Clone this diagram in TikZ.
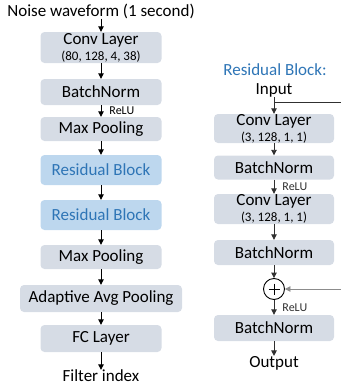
\documentclass[tikz,border=0pt]{standalone}
\usepackage{fontspec}
\setmainfont{Carlito}
\usetikzlibrary{arrows.meta,calc}
\definecolor{boxgray}{HTML}{D6DCE5}
\definecolor{boxblue}{HTML}{BDD7EE}
\definecolor{txtblue}{HTML}{2E75B6}
\definecolor{darkline}{HTML}{303030}
\definecolor{greyline}{HTML}{8C8C8C}
\tikzset{
  main/.style={font=\fontsize{17}{19}\selectfont, inner sep=0pt},
  graybox/.style={main, fill=boxgray, rounded corners=4pt, minimum width=121pt},
  bluebox/.style={main, fill=boxblue, text=txtblue, rounded corners=4pt, minimum width=121pt, minimum height=30pt},
  relu/.style={font=\fontsize{12}{13}\selectfont, inner sep=0pt, anchor=west},
  arr/.style={-{Triangle[length=5.5pt,width=5.5pt]}, line width=0.9pt, black},
  arrd/.style={-{Triangle[length=5.5pt,width=5.5pt]}, line width=0.9pt, darkline},
}
\begin{document}
\begin{tikzpicture}[x=1pt,y=-1pt]
\useasboundingbox (0,0) rectangle (340,388);
% left column
\node[main] (noise) at (101,11) {Noise waveform (1 second)};
\node[graybox, minimum height=31pt, align=center] (conv) at (101,47.5) {Conv Layer\\[-3pt]{\fontsize{13}{14}\selectfont (80, 128, 4, 38)}};
\node[graybox, minimum height=26pt] (bn) at (101,92) {BatchNorm};
\node[graybox, minimum height=24pt] (mp) at (101,129) {Max Pooling};
\node[bluebox] (rb1) at (101,170) {Residual Block};
\node[bluebox] (rb2) at (101,215) {Residual Block};
\node[graybox, minimum height=24pt] (mp2) at (101,257) {Max Pooling};
\node[graybox, minimum height=27pt, minimum width=162pt] (aap) at (101,298.5) {Adaptive Avg Pooling};
\node[graybox, minimum height=27pt] (fc) at (101,338.5) {FC Layer};
\node[main] (fi) at (101,376) {Filter index};
\draw[arr] (noise) -- (conv);
\draw[arr] (conv) -- (bn);
\draw[arr] (bn) -- node[relu, xshift=8pt] (r1) {ReLU} (mp);
\draw[arr] (mp) -- (rb1);
\draw[arr] (rb1) -- (rb2);
\draw[arr] (rb2) -- (mp2);
\draw[arr] (mp2) -- (aap);
\draw[arr] (aap) -- (fc);
\draw[arr] (fc) -- (fi);
% right column
\node[main, text=txtblue] (title) at (275,70) {Residual Block:};
\node[main] (inp) at (274,90) {Input};
\node[graybox, minimum height=29pt, minimum width=120pt, align=center] (rc1) at (274,128.5) {Conv Layer\\[-3pt]{\fontsize{13}{14}\selectfont (3, 128, 1, 1)}};
\node[graybox, minimum height=24pt, minimum width=120pt] (rbn1) at (274,167.5) {BatchNorm};
\node[graybox, minimum height=30pt, minimum width=120pt, align=center] (rc2) at (274,209) {Conv Layer\\[-3pt]{\fontsize{13}{14}\selectfont (3, 128, 1, 1)}};
\node[graybox, minimum height=25pt, minimum width=120pt] (rbn2) at (274,252.5) {BatchNorm};
\node[draw, circle, line width=0.9pt, minimum size=21pt, inner sep=0pt] (plus) at (274,289) {};
\draw[line width=0.9pt] ($(plus.center)+(-5.5,0)$) -- ($(plus.center)+(5.5,0)$);
\draw[line width=0.9pt] ($(plus.center)+(0,-5.5)$) -- ($(plus.center)+(0,5.5)$);
\node[graybox, minimum height=26pt, minimum width=120pt] (rbn3) at (274,328) {BatchNorm};
\node[main] (out) at (274,363) {Output};
\coordinate (j) at (274,102);
\draw[arrd] (inp.south) -- (rc1);
\draw[line width=0.9pt, darkline] (j) -- (345,102);
\draw[arrd] (rc1) -- (rbn1);
\draw[arrd] (rbn1) -- node[relu, xshift=8pt] (r2) {ReLU} (rc2);
\draw[arrd] (rc2) -- (rbn2);
\draw[arrd] (rbn2) -- (plus);
\draw[arrd] (plus) -- node[relu, xshift=8pt] (r3) {ReLU} (rbn3);
\draw[arrd] (rbn3) -- (out);
\draw[-{Triangle[length=5.5pt,width=5.5pt]}, line width=0.9pt, greyline] (345,102) -- (345,289) -- (plus.east);
\end{tikzpicture}
\end{document}
